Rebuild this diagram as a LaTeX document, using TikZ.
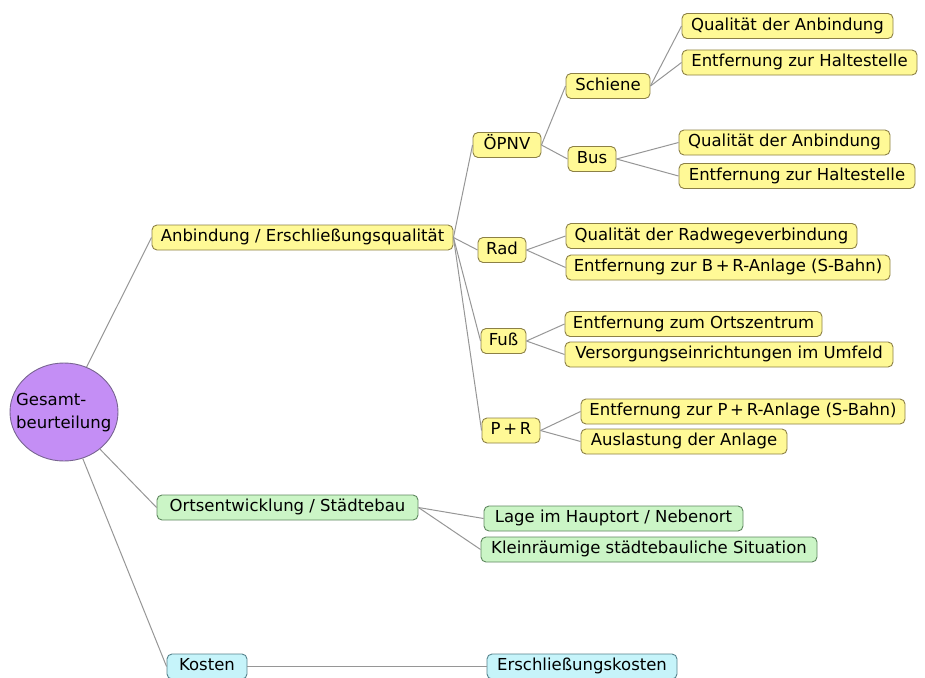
\documentclass[tikz,border=0pt]{standalone}
\usepackage{fontspec}
\setmainfont{DejaVu Sans}
\usetikzlibrary{shapes.geometric}
\definecolor{yfill}{RGB}{255,249,150}
\definecolor{ydraw}{RGB}{140,128,70}
\definecolor{gfill}{RGB}{203,245,198}
\definecolor{gdraw}{RGB}{95,135,95}
\definecolor{cfill}{RGB}{198,244,250}
\definecolor{cdraw}{RGB}{85,130,140}
\definecolor{pfill}{RGB}{196,142,245}
\definecolor{pdraw}{RGB}{120,100,145}
\definecolor{lnk}{RGB}{150,150,150}
\tikzset{
  box/.style={draw, rounded corners=5pt, line width=0.9pt, minimum height=25pt,
    inner xsep=0pt, inner ysep=0pt, text height=12pt, text depth=3.5pt,
    font=\fontsize{16.5}{19}\selectfont},
  ybox/.style={box, fill=yfill, draw=ydraw},
  gbox/.style={box, fill=gfill, draw=gdraw},
  cbox/.style={box, fill=cfill, draw=cdraw},
  rootnode/.style={ellipse, draw=pdraw, fill=pfill, line width=0.9pt, minimum width=108pt,
    minimum height=98pt, inner sep=0pt},
  roottext/.style={inner sep=0pt, align=left, font=\fontsize{16.5}{23}\selectfont},
  lnkline/.style={draw=lnk, line width=1pt}
}
\begin{document}
\begin{tikzpicture}[x=1pt,y=-1pt]
\useasboundingbox (0,0) rectangle (925,677);
% root
\node[rootnode] (root) at (64,412) {};
\node[roottext, anchor=west] (rootlabel) at (16,413) {Gesamt-\\beurteilung};
% level 1
\node[ybox, minimum width=301pt] (anb) at (302.5,237.5) {Anbindung / Erschließungsqualität};
\node[gbox, minimum width=261pt] (ort) at (287.5,507.5) {Ortsentwicklung / Städtebau};
\node[cbox, minimum width=80pt] (kosten) at (207,666.5) {Kosten};
% level 2 (Anbindung)
\node[ybox, minimum width=68pt] (opnv) at (507,145) {ÖPNV};
\node[ybox, minimum width=48pt] (rad) at (502,250) {Rad};
\node[ybox, minimum width=45pt] (fuss) at (503.5,341) {Fuß};
\node[ybox, minimum width=58pt] (pr) at (511,430.5) {P\,+\,R};
% level 3 (OPNV)
\node[ybox, minimum width=84pt] (schiene) at (608,86) {Schiene};
\node[ybox, minimum width=48pt] (bus) at (592,159) {Bus};
% leaves
\node[ybox, minimum width=211pt] (q1) at (787.5,26) {Qualität der Anbindung};
\node[ybox, minimum width=235pt] (e1) at (799.5,62.5) {Entfernung zur Haltestelle};
\node[ybox, minimum width=211pt] (q2) at (784.5,142.5) {Qualität der Anbindung};
\node[ybox, minimum width=236pt] (e2) at (797,176) {Entfernung zur Haltestelle};
\node[ybox, minimum width=291pt] (radq) at (711.5,236) {Qualität der Radwegeverbindung};
\node[ybox, minimum width=324pt] (radb) at (728,267.5) {Entfernung zur B\,+\,R-Anlage (S-Bahn)};
\node[ybox, minimum width=257pt] (fz) at (693.5,324) {Entfernung zum Ortszentrum};
\node[ybox, minimum width=328pt] (fv) at (729,354.5) {Versorgungseinrichtungen im Umfeld};
\node[ybox, minimum width=324pt] (pre) at (743,411.5) {Entfernung zur P\,+\,R-Anlage (S-Bahn)};
\node[ybox, minimum width=206pt] (pra) at (684,441.5) {Auslastung der Anlage};
\node[gbox, minimum width=259pt] (lage) at (613.5,518.5) {Lage im Hauptort / Nebenort};
\node[gbox, minimum width=336pt] (klein) at (649,549.5) {Kleinräumige städtebauliche Situation};
\node[cbox, minimum width=190pt] (ek) at (582,666.5) {Erschließungskosten};
% connectors
\path[lnkline] (root) -- (anb.west);
\path[lnkline] (root) -- (ort.west);
\path[lnkline] (root) -- (kosten.west);
\path[lnkline] (anb.east) -- (opnv.west);
\path[lnkline] (anb.east) -- (rad.west);
\path[lnkline] (anb.east) -- (fuss.west);
\path[lnkline] (anb.east) -- (pr.west);
\path[lnkline] (opnv.east) -- (schiene.west);
\path[lnkline] (opnv.east) -- (bus.west);
\path[lnkline] (schiene.east) -- (q1.west);
\path[lnkline] (schiene.east) -- (e1.west);
\path[lnkline] (bus.east) -- (q2.west);
\path[lnkline] (bus.east) -- (e2.west);
\path[lnkline] (rad.east) -- (radq.west);
\path[lnkline] (rad.east) -- (radb.west);
\path[lnkline] (fuss.east) -- (fz.west);
\path[lnkline] (fuss.east) -- (fv.west);
\path[lnkline] (pr.east) -- (pre.west);
\path[lnkline] (pr.east) -- (pra.west);
\path[lnkline] (ort.east) -- (lage.west);
\path[lnkline] (ort.east) -- (klein.west);
\path[lnkline] (kosten.east) -- (ek.west);
\end{tikzpicture}
\end{document}
